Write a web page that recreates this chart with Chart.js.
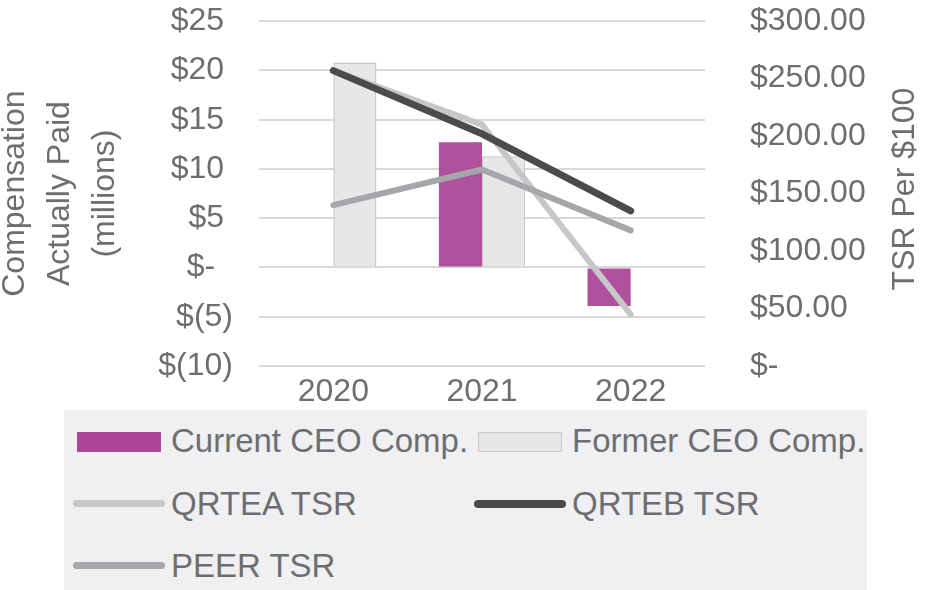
<!DOCTYPE html>
<html>
<head>
<meta charset="utf-8">
<script src="https://cdn.jsdelivr.net/npm/chart.js@4/dist/chart.umd.min.js"></script>
<style>
  html, body { margin: 0; padding: 0; background: #fff; }
  #wrap { position: relative; width: 930px; height: 590px; overflow: hidden; }
  #plot { position: absolute; left: 0; top: 0; width: 930px; height: 410px; }
  #legend { position: absolute; left: 64px; top: 410px; width: 803px; height: 180px; background: #f0f0f2; }
  .item { position: absolute; height: 40px; }
  .mark { position: absolute; }
  .txt { position: absolute; left: 94px; top: 0; line-height: 40px; white-space: nowrap;
         font: 33px "Liberation Sans", Arial, sans-serif; color: #6d6e71; }
</style>
</head>
<body>
<div id="wrap">
  <div id="plot"><canvas id="chart"></canvas></div>
  <div id="legend"></div>
</div>
<script>
'use strict';

// Values
const years = ['2020', '2021', '2022'];
const currentCeo = [null, 12.7, -3.9];   // $ millions
const formerCeo = [20.8, 11.3, null];    // $ millions
const qrteaTsr = [257, 210, 45];         // TSR per $100
const qrtebTsr = [257, 202, 135];
const peerTsr = [140, 171, 118];

const textColor = '#6d6e71';
const font = '"Liberation Sans", Arial, sans-serif';

//Left axis labels in the accounting style: $25, $-, $(5)
function leftTick(v) {
   if (v === 0) return '$-  ';
   if (v < 0) return '$(' + (-v) + ')';
   return '$' + v + ' ';
}

//Right axis labels: $300.00 ... $-
function rightTick(v) {
   return v === 0 ? '$-' : '$' + v.toFixed(2);
}

//Right title reads bottom to top, which chart.js does not do for a right axis
const rightTitle = {
   id: 'rightTitle',
   afterDraw(chart) {
      const c = chart.ctx;
      c.save();
      c.translate(905, 189);
      c.rotate(-Math.PI / 2);
      c.font = '32px ' + font;
      c.fillStyle = textColor;
      c.textAlign = 'center';
      c.textBaseline = 'middle';
      c.fillText('TSR Per $100', 0, 0);
      c.restore();
   }
};

const datasets = [
   {
      type: 'bar', label: 'Current CEO Comp.', data: currentCeo, yAxisID: 'y',
      backgroundColor: '#b0519d', borderWidth: 0, order: 10,
      swatch: '#ae4498'
   },
   {
      type: 'bar', label: 'Former CEO Comp.', data: formerCeo, yAxisID: 'y',
      backgroundColor: '#e6e7e8', borderColor: '#c8c8ca', borderWidth: 1.5, order: 11,
      swatch: '#e6e7e8'
   },
   {
      type: 'line', label: 'QRTEA TSR', data: qrteaTsr, yAxisID: 'y1',
      borderColor: '#c6c7c9', borderWidth: 6, order: 3
   },
   {
      type: 'line', label: 'QRTEB TSR', data: qrtebTsr, yAxisID: 'y1',
      borderColor: '#4b4b4d', borderWidth: 7, order: 2
   },
   {
      type: 'line', label: 'PEER TSR', data: peerTsr, yAxisID: 'y1',
      borderColor: '#a6a7aa', borderWidth: 6, order: 1
   }
];

const chart = new Chart(document.getElementById('chart'), {
   data: { labels: years, datasets: datasets },
   options: {
      responsive: true,
      maintainAspectRatio: false,
      animation: false,
      layout: { padding: { top: 20, left: 0, right: 0, bottom: 0 } },
      categoryPercentage: 0.58,
      barPercentage: 1,
      elements: {
         line: { tension: 0, borderCapStyle: 'round', borderJoinStyle: 'round' },
         point: { radius: 0, hoverRadius: 0 }
      },
      plugins: { legend: { display: false }, tooltip: { enabled: false } },
      scales: {
         x: {
            offset: true,
            grid: { display: false },
            border: { display: false },
            ticks: { color: textColor, font: { family: font, size: 32 }, padding: -1 },
            afterFit(s) { s.height = 44; }
         },
         y: {
            position: 'left',
            min: -10, max: 25,
            ticks: { stepSize: 5, autoSkip: false, color: textColor,
                     font: { family: font, size: 32 }, padding: 2, callback: leftTick },
            //invisible tick marks keep the labels away from the plot
            grid: { color: '#d9d9d9', lineWidth: 2, drawTicks: true, tickLength: 24,
                    tickColor: 'rgba(0,0,0,0)' },
            border: { display: false },
            title: {
               display: true,
               text: ['Compensation', 'Actually Paid', '(millions)'],
               color: textColor,
               font: { family: font, size: 32, lineHeight: 1.406 },
               padding: { top: -7, bottom: 0 }
            },
            afterFit(s) { s.width = 259; }
         },
         y1: {
            position: 'right',
            min: 0, max: 300,
            ticks: { stepSize: 50, autoSkip: false, color: textColor,
                     font: { family: font, size: 32 }, padding: 2, callback: rightTick },
            grid: { display: false, drawTicks: true, tickLength: 43 },
            border: { display: false },
            afterFit(s) { s.width = 225; }
         }
      }
   },
   plugins: [rightTitle]
});

//Legend laid out in two columns like the original
const legendSpots = [
   { left: 13, top: 12 },
   { left: 414, top: 12 },
   { left: 13, top: 75 },
   { left: 414, top: 75 },
   { left: 13, top: 137 }
];
const legend = document.getElementById('legend');
chart.data.datasets.forEach((ds, i) => {
   const item = document.createElement('div');
   item.className = 'item';
   item.style.left = legendSpots[i].left + 'px';
   item.style.top = legendSpots[i].top + 'px';
   const mark = document.createElement('div');
   mark.className = 'mark';
   if (ds.type === 'bar') {
      mark.style.left = '0px';
      mark.style.top = '10px';
      mark.style.width = '84px';
      mark.style.height = '20px';
      mark.style.boxSizing = 'border-box';
      mark.style.background = ds.swatch;
      if (ds.borderWidth) mark.style.border = ds.borderWidth + 'px solid ' + ds.borderColor;
   } else {
      mark.style.left = '-4px';
      mark.style.top = (20 - ds.borderWidth / 2 - 2) + 'px';
      mark.style.width = '92px';
      mark.style.height = (ds.borderWidth + 1) + 'px';
      mark.style.borderRadius = '4px';
      mark.style.background = ds.borderColor;
   }
   const txt = document.createElement('div');
   txt.className = 'txt';
   txt.textContent = ds.label;
   item.appendChild(mark);
   item.appendChild(txt);
   legend.appendChild(item);
});
</script>
</body>
</html>
